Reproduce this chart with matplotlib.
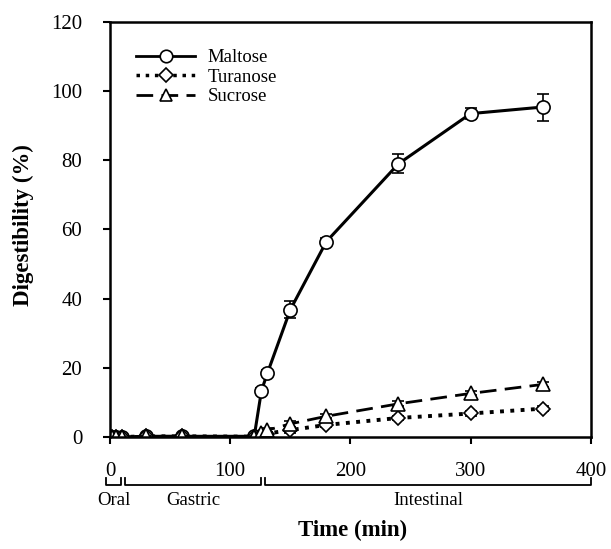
import numpy as np
import matplotlib
matplotlib.use("Agg")
import matplotlib.pyplot as plt
import matplotlib.transforms as mtransforms
from matplotlib.lines import Line2D

plt.rcParams["font.family"] = ["Liberation Serif", "DejaVu Serif"]

# %% data
time = [0, 2, 5, 10, 30, 60, 120, 126, 131, 150, 180, 240, 300, 360]
maltose = [0, 0, 0, 0, 0.2, 0.2, 0.2, 13.4, 18.5, 36.8, 56.5, 79.0, 93.5, 95.4]
maltose_err = [0.3, 0.3, 0.3, 0.3, 0.3, 0.3, 0.3, 0.8, 0.8, 2.5, 1.0, 2.8, 1.5, 3.9]
turanose = [0, 0, 0, 0, 0.2, 0.2, 0.1, 0.6, 1.0, 2.0, 3.5, 5.5, 6.8, 8.2]
turanose_err = [0.3, 0.3, 0.3, 0.3, 0.3, 0.3, 0.3, 0.5, 0.5, 0.8, 0.6, 0.7, 0.6, 0.8]
sucrose = [0, 0, 0, 0, 0.2, 0.2, 0.1, 1.2, 2.0, 3.8, 6.0, 9.6, 12.6, 15.2]
sucrose_err = [0.3, 0.3, 0.3, 0.3, 0.3, 0.3, 0.3, 0.5, 0.5, 0.8, 0.6, 0.7, 0.6, 0.8]

phases = ["Oral", "Gastric", "Intestinal"]
phase_start = [-3, 12.5, 129]
phase_end = [9, 126, 400]

# %% plot
fig = plt.figure(figsize=(6.11, 5.49), dpi=100)
ax = fig.add_axes([0.18, 0.204, 0.787, 0.756])

common = dict(color="black", markerfacecolor="white", markeredgecolor="black",
              markersize=9.5, markeredgewidth=1.2, capsize=4, elinewidth=1.2,
              ecolor="black", capthick=1.2)
ax.errorbar(time, maltose, yerr=maltose_err, fmt="-o", lw=2.2, **common)
ax.errorbar(time, turanose, yerr=turanose_err, fmt=":D", lw=2.8,
            **{**common, "markersize": 7.5})
ax.errorbar(time, sucrose, yerr=sucrose_err, fmt="--^", lw=2, dashes=(6, 3), **common)

ax.set_xlim(0, 400)
ax.set_ylim(0, 120)
ax.set_xticks([0, 100, 200, 300, 400])
ax.set_yticks(range(0, 121, 20))
ax.tick_params(axis="both", direction="out", length=5, width=1.5, labelsize=15)
ax.tick_params(axis="x", pad=13)
ax.tick_params(axis="y", pad=15)
for s in ax.spines.values():
    s.set_linewidth(1.8)

# legend without error bars
handles = [
    Line2D([], [], color="black", lw=2, marker="o", markersize=9,
           markerfacecolor="white", markeredgewidth=1.2),
    Line2D([], [], color="black", lw=2.5, ls=":", marker="D", markersize=7,
           markerfacecolor="white", markeredgewidth=1.2),
    Line2D([], [], color="black", lw=2, ls="--", dashes=(6, 3), marker="^",
           markersize=9, markerfacecolor="white", markeredgewidth=1.2),
]
ax.legend(handles, ["Maltose", "Turanose", "Sucrose"], loc="upper left",
          bbox_to_anchor=(0.02, 0.975), frameon=False, fontsize=13.5,
          handlelength=3.1, handletextpad=0.7, labelspacing=0.12)

# phase brackets under the x axis
trans = mtransforms.blended_transform_factory(ax.transData, ax.transAxes)
for name, a, b in zip(phases, phase_start, phase_end):
    ax.plot([a, a, b, b], [-0.099, -0.116, -0.116, -0.099], color="black", lw=1.3,
            transform=trans, clip_on=False)
    ax.text((a + b) / 2, -0.132, name, transform=trans, ha="center", va="top",
            fontsize=13.5)

fig.text(353 / 611, 1 - 530 / 549, "Time (min)", ha="center", va="center",
         fontsize=16.5, fontweight="bold")
fig.text(23 / 611, 1 - 225 / 549, "Digestibility (%)", ha="center", va="center",
         rotation=90, fontsize=16.5, fontweight="bold")

fig.savefig("out.png", dpi=100)
